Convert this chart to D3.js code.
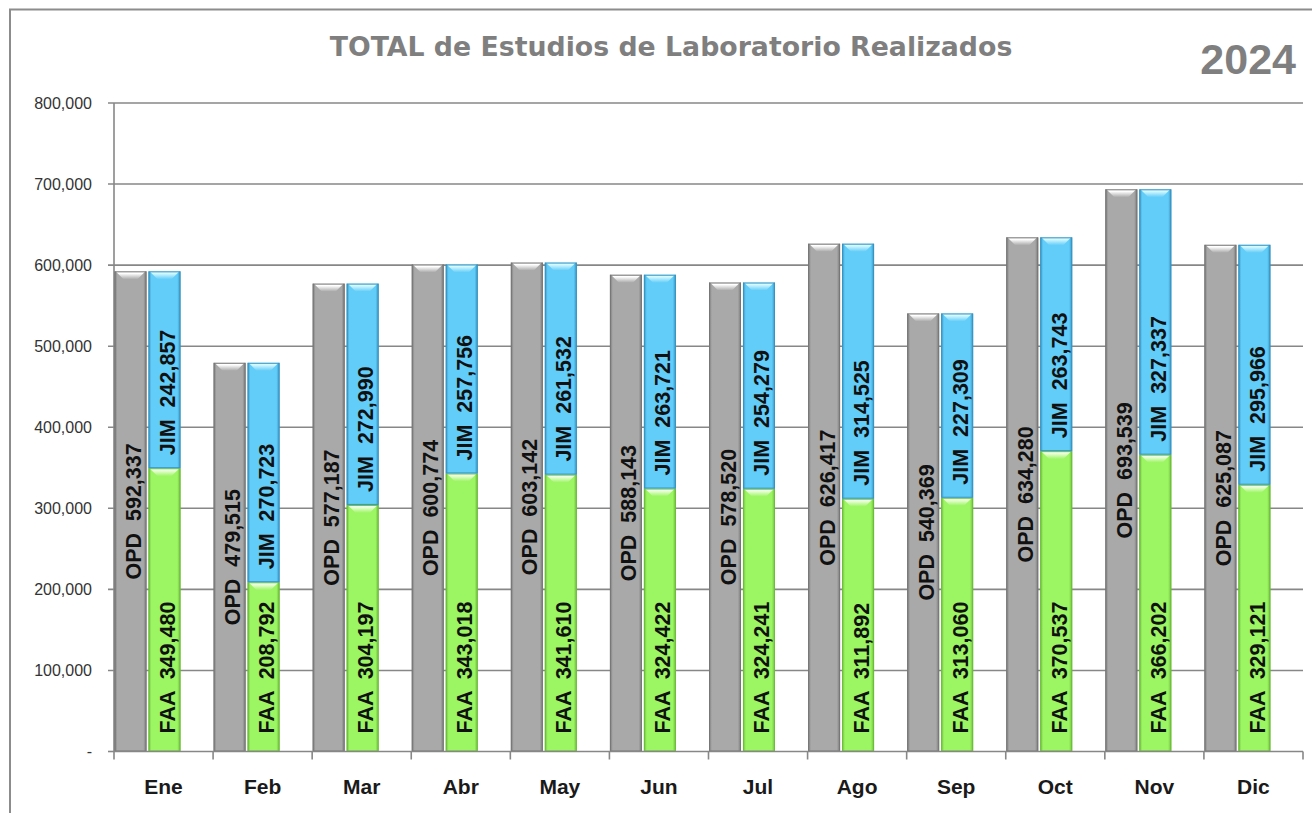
<!DOCTYPE html>
<html><head><meta charset="utf-8">
<script src="https://cdn.jsdelivr.net/npm/d3@7"></script>
<style>html,body{margin:0;padding:0;background:#fff;}svg{display:block;}</style>
</head><body><svg id="chart" width="1312" height="813"></svg>
<script>
const months = ["Ene","Feb","Mar","Abr","May","Jun","Jul","Ago","Sep","Oct","Nov","Dic"];
const opd = [592337,479515,577187,600774,603142,588143,578520,626417,540369,634280,693539,625087];
const faa = [349480,208792,304197,343018,341610,324422,324241,311892,313060,370537,366202,329121];
const jim = [242857,270723,272990,257756,261532,263721,254279,314525,227309,263743,327337,295966];
const yTicks = [0,100000,200000,300000,400000,500000,600000,700000,800000];
const titleText = "TOTAL de Estudios de Laboratorio Realizados";
const yearText = "2024";

const svg = d3.select("#chart");
const L = 114, R = 1303, T = 103, B = 751.5;
const x = d3.scaleBand().domain(months).range([L, R]).paddingInner(0).paddingOuter(0);
const y = d3.scaleLinear().domain([0, 800000]).range([B, T]);

// outer border
svg.append("rect").attr("x",10).attr("y",9.5).attr("width",1310).attr("height",812)
  .attr("fill","none").attr("stroke","#8c8c8c").attr("stroke-width",2);

const defs = svg.append("defs");
const palettes = {
  gray: {base:"#a9a9a9", dark:"#777777", light:"#ffffff"},
  blue: {base:"#62cdf9", dark:"#3794c2", light:"#d6f9ff"},
  green:{base:"#9cf562", dark:"#6cbd3a", light:"#f0ffe2"}
};
Object.entries(palettes).forEach(([k,p])=>{
  const h = defs.append("linearGradient").attr("id","h-"+k).attr("x1","0").attr("x2","1").attr("y1","0").attr("y2","0");
  h.append("stop").attr("offset","0%").attr("stop-color",p.dark);
  h.append("stop").attr("offset","9%").attr("stop-color",p.base);
  h.append("stop").attr("offset","90%").attr("stop-color",p.base);
  h.append("stop").attr("offset","100%").attr("stop-color",p.dark);
  const v = defs.append("linearGradient").attr("id","v-"+k).attr("x1","0").attr("x2","0").attr("y1","0").attr("y2","1");
  v.append("stop").attr("offset","0%").attr("stop-color",p.light);
  v.append("stop").attr("offset","25%").attr("stop-color",p.light);
  v.append("stop").attr("offset","100%").attr("stop-color",p.base);
});

// gridlines
const grid = svg.append("g");
grid.selectAll("line").data(yTicks.filter(d=>d>0)).join("line")
  .attr("x1",L-6).attr("x2",R).attr("y1",d=>y(d)).attr("y2",d=>y(d))
  .attr("stroke","#878787").attr("stroke-width",1.6);

// y axis line and labels
svg.append("line").attr("x1",L).attr("x2",L).attr("y1",T).attr("y2",B)
  .attr("stroke","#878787").attr("stroke-width",1.6);
svg.append("line").attr("x1",L-6).attr("x2",L).attr("y1",B).attr("y2",B)
  .attr("stroke","#878787").attr("stroke-width",1.6);
const fmt = d3.format(",");
svg.append("g").selectAll("text").data(yTicks).join("text")
  .attr("x",92).attr("y",d=>y(d)).attr("dy","0.36em").attr("text-anchor","end")
  .attr("font-family","Liberation Sans, Arial, sans-serif").attr("font-size",16)
  .attr("fill","#333").text(d=>d===0?"-":fmt(d));

// bars
const bw = x.bandwidth()*0.323, gap = x.bandwidth()*0.02;
function seg(g, x0, v0, v1, pal){
  const yt = y(v1), yb = y(v0), w = bw, h = yb-yt, b = Math.min(8, h/2);
  g.append("rect").attr("x",x0).attr("y",yt).attr("width",w).attr("height",h)
    .attr("fill","url(#h-"+pal+")");
  g.append("polygon").attr("points",[[x0+1,yt],[x0+w-1,yt],[x0+w-1-b,yt+b],[x0+1+b,yt+b]].map(p=>p.join(",")).join(" "))
    .attr("fill","url(#v-"+pal+")");
  g.append("rect").attr("x",x0+0.5).attr("y",yt+0.5).attr("width",w-1).attr("height",h-1)
    .attr("fill","none").attr("stroke",palettes[pal].dark).attr("stroke-width",1);
}
const bars = svg.append("g");
months.forEach((m,i)=>{
  const x0 = x(m)+0.5;
  const x1 = x0+bw+gap;
  seg(bars, x0, 0, opd[i], "gray");
  seg(bars, x1, 0, faa[i], "green");
  seg(bars, x1, faa[i], faa[i]+jim[i], "blue");
});

// labels
const lblFont = "Liberation Sans, Arial, sans-serif";
function vlabel(cx, cy, anchor, txt){
  svg.append("text").attr("transform",`translate(${cx},${cy}) rotate(-90)`)
    .attr("text-anchor",anchor).attr("font-family",lblFont).attr("font-weight","bold")
    .attr("font-size",21.5).attr("fill","#111").attr("xml:space","preserve")
    .style("white-space","pre").text(txt);
}
months.forEach((m,i)=>{
  const x0 = x(m)+0.5, x1 = x0+bw+gap;
  vlabel(x0+bw/2+10.5, (y(0)+y(opd[i]))/2, "middle", "OPD  "+fmt(opd[i]));
  vlabel(x1+bw/2+10.5, y(0)-18, "start", "FAA  "+fmt(faa[i]));
  vlabel(x1+bw/2+10.5, y(faa[i])-13, "start", "JIM  "+fmt(jim[i]));
});

// x axis
svg.append("line").attr("x1",L).attr("x2",R).attr("y1",B).attr("y2",B)
  .attr("stroke","#878787").attr("stroke-width",1.6);
const bounds = months.map(m=>x(m)).concat([R]);
svg.append("g").selectAll("line").data(bounds).join("line")
  .attr("x1",d=>d).attr("x2",d=>d).attr("y1",B).attr("y2",B+8)
  .attr("stroke","#878787").attr("stroke-width",1.6);
svg.append("g").selectAll("text").data(months).join("text")
  .attr("x",d=>x(d)+x.bandwidth()/2).attr("y",794).attr("text-anchor","middle")
  .attr("font-family",lblFont).attr("font-weight","bold").attr("font-size",21)
  .attr("fill","#1a1a1a").text(d=>d);

// title
const title = svg.append("text").attr("x",671).attr("y",56).attr("text-anchor","middle")
  .attr("font-family","DejaVu Sans, sans-serif").attr("font-weight","bold").attr("font-size",24)
  .attr("fill","#7f7f7f").text(titleText);
const tw = title.node().getComputedTextLength();
title.attr("font-size", 24*683/tw);
svg.append("text").attr("x",1296).attr("y",74).attr("text-anchor","end")
  .attr("font-family",lblFont).attr("font-weight","bold").attr("font-size",43)
  .attr("fill","#7f7f7f").text(yearText);
</script></body></html>
